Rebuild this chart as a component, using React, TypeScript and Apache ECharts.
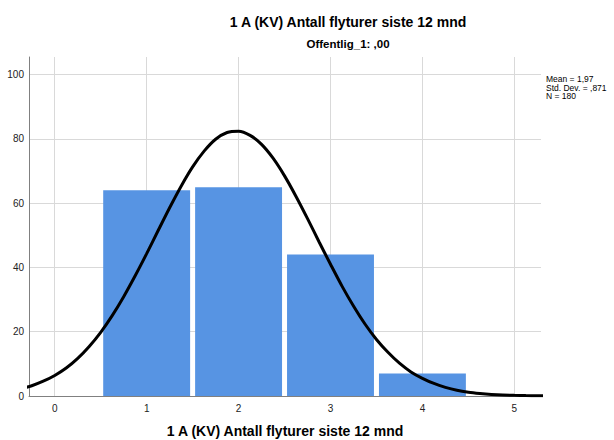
import React, { useEffect, useRef } from "react";
import * as echarts from "echarts";

// Histogram bins (category value) and their counts
const binCenters = [1, 2, 3, 4];
const counts = [64, 65, 44, 7];
const binWidth = 1;

// Normal curve (Mean 1,97, SD ,871, N 180)
const curveX = [
  -0.5, -0.375, -0.25, -0.125, 0, 0.125, 0.25, 0.375, 0.5, 0.625, 0.75, 0.875,
  1, 1.125, 1.25, 1.375, 1.5, 1.625, 1.75, 1.875, 2, 2.125, 2.25, 2.375,
  2.5, 2.625, 2.75, 2.875, 3, 3.125, 3.25, 3.375, 3.5, 3.625, 3.75, 3.875,
  4, 4.125, 4.25, 4.375, 4.5, 4.625, 4.75, 4.875, 5, 5.125, 5.25, 5.375, 5.5,
];
const curveY = [
  1.5, 2.2, 3.2, 4.6, 6.4, 8.7, 11.7, 15.4, 19.8, 25.0, 30.9, 37.4,
  44.3, 51.5, 58.6, 65.3, 71.3, 76.2, 79.9, 82.0, 82.4, 81.1, 78.3, 74.0,
  68.5, 62.1, 55.2, 48.0, 41.0, 34.2, 28.0, 22.4, 17.6, 13.6, 10.2, 7.5,
  5.5, 3.9, 2.7, 1.8, 1.2, 0.8, 0.5, 0.3, 0.2, 0.12, 0.07, 0.04, 0.02,
];

const xTicks = [0, 1, 2, 3, 4, 5];
const yTicks = [0, 20, 40, 60, 80, 100];

const titleText = "1 A (KV) Antall flyturer siste 12 mnd";
const subtitleText = "Offentlig_1: ,00";
const xAxisName = "1 A (KV) Antall flyturer siste 12 mnd";
const statsLines = ["Mean = 1,97", "Std. Dev. = ,871", "N = 180"];

const FONT = '"Liberation Sans", Arial, sans-serif';

export default function App() {
  const ref = useRef<HTMLDivElement>(null);
  useEffect(() => {
    if (!ref.current) return;
    const chart = echarts.init(ref.current, undefined, { renderer: "svg" });
    const barData = binCenters.map((c, i) => [c, counts[i]]);
    const lineData = curveX.map((x, i) => [x, curveY[i]]);
    chart.setOption({
      animation: false,
      backgroundColor: "#ffffff",
      textStyle: { fontFamily: FONT },
      grid: { left: 29, right: 73, top: 57, bottom: 44, containLabel: false },
      xAxis: {
        type: "value",
        min: -0.28,
        max: 5.29,
        axisLine: { show: true, onZero: false, lineStyle: { color: "#808080", width: 1 } },
        axisTick: { show: false, customValues: xTicks },
        axisLabel: { customValues: xTicks, color: "#222", fontSize: 10, margin: 7, fontFamily: FONT },
        splitLine: { show: true, lineStyle: { color: "#d9d9d9", width: 1 } },
      },
      yAxis: {
        type: "value",
        min: 0,
        max: 105.5,
        axisLine: { show: true, onZero: false, lineStyle: { color: "#808080", width: 1 } },
        axisTick: { show: false, customValues: yTicks },
        axisLabel: { customValues: yTicks, color: "#222", fontSize: 10, margin: 5, fontFamily: FONT },
        splitLine: { show: true, lineStyle: { color: "#d9d9d9", width: 1 } },
      },
      series: [
        {
          type: "custom",
          name: "Frequency",
          data: barData,
          encode: { x: 0, y: 1 },
          z: 2,
          renderItem: (params: any, api: any) => {
            const x = api.value(0);
            const y = api.value(1);
            const p0 = api.coord([x - binWidth / 2, y]);
            const p1 = api.coord([x + binWidth / 2, 0]);
            const gap = 2.5;
            return {
              type: "rect",
              shape: { x: p0[0] + gap, y: p0[1], width: p1[0] - p0[0] - 2 * gap, height: p1[1] - p0[1] },
              style: { fill: "#5794e3" },
            };
          },
        },
        {
          type: "line",
          name: "Normal",
          data: lineData,
          smooth: 0.3,
          showSymbol: false,
          symbol: "none",
          clip: true,
          z: 3,
          lineStyle: { color: "#000000", width: 3 },
        },
      ],
      graphic: [
        {
          type: "text",
          x: 348,
          y: 22,
          style: { text: titleText, font: `bold 14px ${FONT}`, fill: "#000", textAlign: "center", align: "center", textVerticalAlign: "middle", verticalAlign: "middle" },
        },
        {
          type: "text",
          x: 348,
          y: 44,
          style: { text: subtitleText, font: `bold 11.5px ${FONT}`, fill: "#000", textAlign: "center", align: "center", textVerticalAlign: "middle", verticalAlign: "middle" },
        },
        {
          type: "text",
          x: 285,
          y: 431,
          style: { text: xAxisName, font: `bold 14px ${FONT}`, fill: "#000", textAlign: "center", align: "center", textVerticalAlign: "middle", verticalAlign: "middle" },
        },
        ...statsLines.map((line, i) => ({
          type: "text",
          x: 546,
          y: 79 + i * 8.5,
          style: { text: line, font: `8.5px ${FONT}`, fill: "#000", textAlign: "left", align: "left", textVerticalAlign: "middle", verticalAlign: "middle" },
        })),
      ],
    });
    return () => chart.dispose();
  }, []);
  return (
    <div style={{ position: "fixed", left: 0, top: 0, width: 614, height: 440, background: "#fff" }}>
      <div ref={ref} style={{ width: 614, height: 440 }} />
    </div>
  );
}
